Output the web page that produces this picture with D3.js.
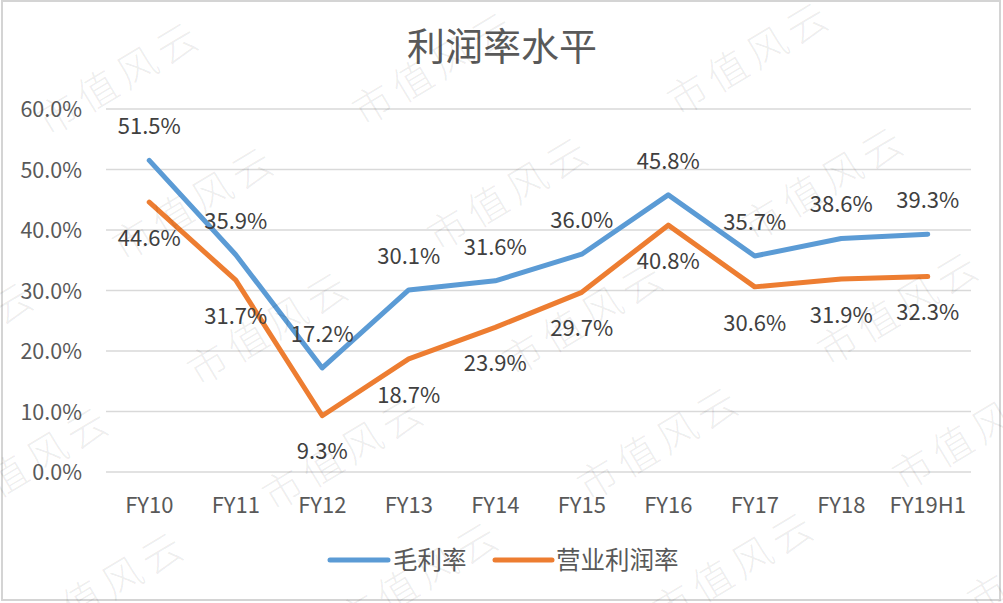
<!DOCTYPE html>
<html><head><meta charset="utf-8">
<script src="https://cdn.jsdelivr.net/npm/d3@7"></script>
<style>
html,body{margin:0;padding:0;background:#fff;}
svg{display:block;}
text{font-family:"Microsoft YaHei","Noto Sans CJK SC","Noto Sans",sans-serif;}
</style></head>
<body>
<svg id="c" width="1003" height="603"></svg>
<script>
const categories = ["FY10","FY11","FY12","FY13","FY14","FY15","FY16","FY17","FY18","FY19H1"];
const grossMargin = [51.5,35.9,17.2,30.1,31.6,36.0,45.8,35.7,38.6,39.3];
const operatingMargin = [44.6,31.7,9.3,18.7,23.9,29.7,40.8,30.6,31.9,32.3];
const yTicks = [0,10,20,30,40,50,60];
const seriesNames = ["毛利率","营业利润率"];
const seriesColors = ["#5B9BD5","#ED7D31"];
const titleText = "利润率水平";
const watermarkText = "市值风云";

const svg = d3.select("#c");
svg.append("rect").attr("x",2).attr("y",1).attr("width",998).attr("height",599)
  .attr("fill","#fff").attr("stroke","#d4d4d4").attr("stroke-width",2);

const x = d3.scaleBand().domain(categories).range([106,971]);
const y = d3.scaleLinear().domain([0,60]).range([472,109]);

// gridlines
svg.append("g").selectAll("line").data(yTicks).join("line")
  .attr("x1",106).attr("x2",971)
  .attr("y1",d=>y(d)).attr("y2",d=>y(d))
  .attr("stroke","#d9d9d9").attr("stroke-width",1.5);

// y axis labels
const yAxis = d3.axisLeft(y).tickValues(yTicks).tickFormat(d=>d.toFixed(1)+"%").tickSize(0).tickPadding(0);
const gy = svg.append("g").attr("transform","translate(82,0)").call(yAxis);
gy.select(".domain").remove();
gy.selectAll("text").attr("font-size",21.5).attr("fill","#595959")
  .attr("font-family",'"Microsoft YaHei","Noto Sans CJK SC",sans-serif').attr("dy","0.35em");

// x axis labels
const xAxis = d3.axisBottom(x).tickSize(0).tickPadding(0);
const gx = svg.append("g").attr("transform","translate(0,505)").call(xAxis);
gx.select(".domain").remove();
gx.selectAll("text").attr("font-size",22).attr("fill","#595959")
  .attr("font-family",'"Microsoft YaHei","Noto Sans CJK SC",sans-serif').attr("dy","0.35em").attr("y",0);

// title
svg.append("text").attr("x",502).attr("y",47).attr("text-anchor","middle").attr("dy","0.35em")
  .attr("font-size",38).attr("fill","#595959").text(titleText);

const cx = d => x(d) + x.bandwidth()/2;
const line = d3.line().x(d=>cx(d.c)).y(d=>y(d.v));
const series = [grossMargin, operatingMargin].map(vals=>vals.map((v,j)=>({c:categories[j],v})));

series.forEach((s,i)=>{
  svg.append("path").datum(s).attr("d",line).attr("fill","none")
    .attr("stroke",seriesColors[i]).attr("stroke-width",5)
    .attr("stroke-linejoin","round").attr("stroke-linecap","round");
});

// data labels
series.forEach((s,i)=>{
  svg.append("g").selectAll("text").data(s).join("text")
    .attr("x",d=>cx(d.c)).attr("y",d=>y(d.v) + (i===0?-34:36))
    .attr("text-anchor","middle").attr("dy","0.35em")
    .attr("font-size",22).attr("fill","#404040")
    .text(d=>d.v.toFixed(1)+"%");
});

// legend
const legend = [{x1:330,x2:388,tx:393},{x1:495,x2:552,tx:556}];
legend.forEach((l,i)=>{
  svg.append("line").attr("x1",l.x1).attr("x2",l.x2).attr("y1",560).attr("y2",560)
    .attr("stroke",seriesColors[i]).attr("stroke-width",5).attr("stroke-linecap","round");
  svg.append("text").attr("x",l.tx).attr("y",560).attr("dy","0.35em")
    .attr("font-size",24.5).attr("fill","#595959").text(seriesNames[i]);
});

// watermarks
const wm = svg.append("g").attr("pointer-events","none");
const base = [120,78], a = [315,-10], b = [75,125];
for (let r=-1;r<=5;r++){
  for (let k=-2;k<=4;k++){
    const px = base[0] + k*a[0] + r*b[0];
    const py = base[1] + k*a[1] + r*b[1];
    if (px < -60 || px > 1060 || py < -30 || py > 640) continue;
    wm.append("text").attr("transform",`translate(${px},${py}) rotate(-31)`)
      .attr("text-anchor","middle").attr("dy","0.35em")
      .attr("font-size",40).attr("font-weight",300).attr("letter-spacing",6)
      .attr("fill","#000").attr("fill-opacity",0.07).text(watermarkText);
  }
}
</script>
</body></html>
